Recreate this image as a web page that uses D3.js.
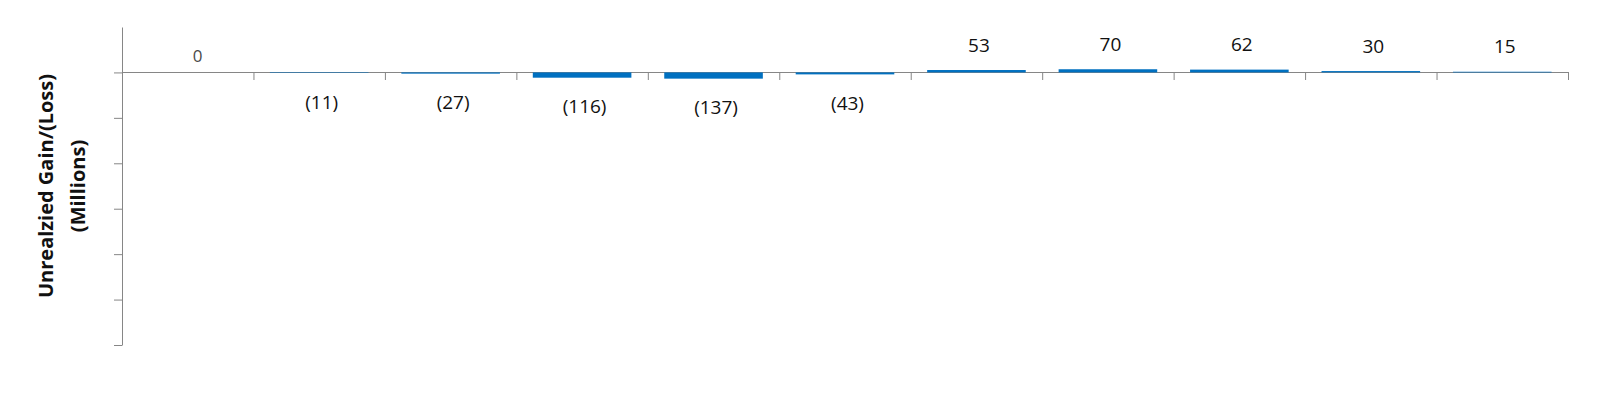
<!DOCTYPE html>
<html>
<head>
<meta charset="utf-8">
<script src="https://cdn.jsdelivr.net/npm/d3@7/dist/d3.min.js"></script>
<style>
  body { margin: 0; background: #fff; }
  svg { display: block; font-family: "Open Sans", sans-serif; }
  .axis path, .axis line { stroke: #868686; }
</style>
</head>
<body>
<svg id="chart" width="1600" height="399"></svg>
<script>
// periods along the x axis (no labels are shown on the chart)
let categories = ["P1", "P2", "P3", "P4", "P5", "P6", "P7", "P8", "P9", "P10", "P11"];
// unrealized gain/(loss), millions
let values = [0, -11, -27, -116, -137, -43, 53, 70, 62, 30, 15];
let yTicks = [0, -1000, -2000, -3000, -4000, -5000, -6000];
let titleLines = ["Unrealzied Gain/(Loss)", "(Millions)"];

let svg = d3.select("#chart");

let x = d3.scaleBand()
    .domain(categories)
    .range([122, 1568])
    .paddingInner(0.25)
    .paddingOuter(0.125);

// boundary scale for the category tick marks
let xEdge = d3.scaleLinear()
    .domain([0, categories.length])
    .range([122, 1568]);

let y = d3.scaleLinear()
    .domain([-6000, 1000])
    .range([345, 27]);

let fmt = function(v){
    return v < 0 ? "(" + Math.abs(v) + ")" : String(v);
};

// y axis
svg.append("g")
    .attr("class", "axis")
    .attr("transform", "translate(122,0)")
    .call(d3.axisLeft(y).tickValues(yTicks).tickFormat("").tickSize(8).tickSizeOuter(0));

// x axis along zero
svg.append("g")
    .attr("class", "axis")
    .attr("transform", "translate(0," + Math.round(y(0)) + ")")
    .call(d3.axisBottom(xEdge).tickValues(d3.range(1, categories.length + 1)).tickFormat("").tickSize(8).tickSizeOuter(0));

// bars, drawn over the zero line
svg.append("g")
    .selectAll("rect")
    .data(values)
    .enter()
    .append("rect")
    .attr("x", (d, i) => x(categories[i]))
    .attr("width", x.bandwidth())
    .attr("y", d => y(Math.max(0, d)))
    .attr("height", d => Math.abs(y(d) - y(0)))
    .attr("fill", "#0070C0");

// data labels
svg.append("g")
    .selectAll("text")
    .data(values)
    .enter()
    .append("text")
    .attr("x", (d, i) => x(categories[i]) + x.bandwidth() / 2 + (d === 0 ? 10 : 2.5))
    .attr("y", d => d > 0 ? y(d) - 25 : (d < 0 ? y(d) + 29 : y(0) - 16))
    .attr("dy", "0.35em")
    .attr("text-anchor", "middle")
    .attr("font-size", d => d === 0 ? "17px" : "19px")
    .attr("fill", d => d === 0 ? "#4a4a4a" : "#111")
    .text(fmt);

// y axis title
let title = svg.append("text")
    .attr("transform", "translate(46,186) rotate(-90)")
    .attr("text-anchor", "middle")
    .attr("font-weight", "bold")
    .attr("font-size", "20px")
    .attr("fill", "#111");
title.selectAll("tspan")
    .data(titleLines)
    .enter()
    .append("tspan")
    .attr("x", 0)
    .attr("y", (d, i) => i * 32)
    .attr("dy", "0.35em")
    .text(d => d);
</script>
</body>
</html>
